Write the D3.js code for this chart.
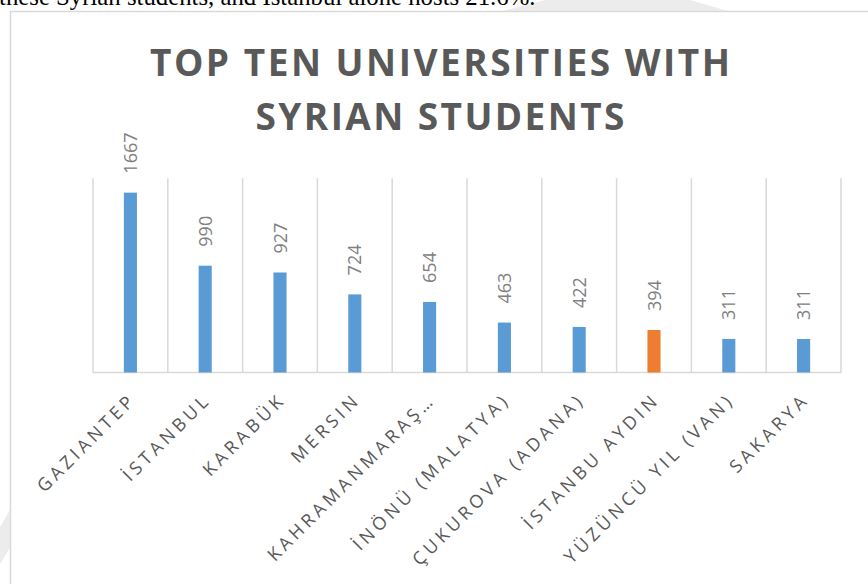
<!DOCTYPE html>
<html><head><meta charset="utf-8">
<script src="https://cdn.jsdelivr.net/npm/d3@7"></script>
<style>html,body{margin:0;padding:0;background:#fff;overflow:hidden}svg{display:block}</style>
</head><body>
<svg id="c" width="868" height="584"></svg>
<script>
const categories = ["GAZIANTEP","İSTANBUL","KARABÜK","MERSIN","KAHRAMANMARAŞ…","İNÖNÜ (MALATYA)","ÇUKUROVA (ADANA)","İSTANBU AYDIN","YÜZÜNCÜ YIL (VAN)","SAKARYA"];
const students = [1667, 990, 927, 724, 654, 463, 422, 394, 311, 311];
const highlight = ["İSTANBU AYDIN"];
const titleLines = ["TOP TEN UNIVERSITIES WITH", "SYRIAN STUDENTS"];
const yDomain = [0, 1800];
const pageText = "these Syrian students, and İstanbul alone hosts 21.6%.";

const svg = d3.select("#c");
// watermark shapes outside the frame
svg.append("polygon").attr("points","503,11 728,11 690,0 545,0").attr("fill","#ececec");
svg.append("polygon").attr("points","0,527 10,510 10,548 0,564").attr("fill","#ececec");

// text from the page above the chart (cut by the top edge, as in the source)
const pt = svg.append("text").attr("x",-1).attr("y",5)
  .attr("font-family","'Liberation Serif','Times New Roman',serif").attr("font-size",22)
  .attr("fill","#000").text(pageText);
const ptw = pt.node().getComputedTextLength();
pt.attr("font-size", 22*537/ptw);

// chart frame
svg.append("rect").attr("x",10.5).attr("y",11.5).attr("width",900).attr("height",640)
  .attr("fill","#fff").attr("stroke","#d9d9d9").attr("stroke-width",1.5);

// title
const titleTargets = [580, 369];
const titleY = [76, 130];
titleLines.forEach((t,i)=>{
  const el = svg.append("text").attr("x",440).attr("y",titleY[i]).attr("text-anchor","middle")
    .attr("font-family","'Open Sans',sans-serif").attr("font-weight","bold").attr("font-size",37)
    .attr("fill","#595959").text(t);
  const w = el.node().getComputedTextLength();
  const ls = (titleTargets[i]-w)/(t.length-1);
  el.attr("letter-spacing", ls).attr("x", 440 + ls/2);
});

const x = d3.scaleBand().domain(categories).range([93, 841]).padding(0);
const y = d3.scaleLinear().domain(yDomain).range([372.5, 178.3]);

// vertical gridlines at band boundaries
const bounds = categories.map(c=>x(c)).concat([x.range()[1]]);
svg.append("g").selectAll("line").data(bounds).join("line")
  .attr("x1",d=>d).attr("x2",d=>d).attr("y1",y(yDomain[1])).attr("y2",y(0))
  .attr("stroke","#d9d9d9").attr("stroke-width",1.5);
// axis line
svg.append("line").attr("x1",x.range()[0]).attr("x2",x.range()[1]).attr("y1",y(0)).attr("y2",y(0))
  .attr("stroke","#d9d9d9").attr("stroke-width",1.5);

const bw = x.bandwidth()*0.175;
svg.append("g").selectAll("rect").data(categories).join("rect")
  .attr("x",d=>x(d)+x.bandwidth()/2-bw/2).attr("width",bw)
  .attr("y",(d,i)=>y(students[i])).attr("height",(d,i)=>y(0)-y(students[i]))
  .attr("fill",d=>highlight.includes(d)?"#ed7d31":"#5b9bd5");

// value labels
svg.append("g").selectAll("text").data(categories).join("text")
  .attr("transform",(d,i)=>`translate(${x(d)+x.bandwidth()/2+6.5},${y(students[i])-19}) rotate(-90)`)
  .attr("font-family","'Open Sans',sans-serif").attr("font-size",18).attr("fill","#808080")
  .text((d,i)=>students[i]);

// category labels
const cl = svg.append("g").selectAll("text").data(categories).join("text")
  .attr("font-family","'Open Sans',sans-serif").attr("font-size",18).attr("fill","#595959")
  .attr("text-anchor","end")
  .text(d=>d);
const w0 = cl.nodes()[0].getComputedTextLength();
const ls = Math.max(0,(127 - w0)/(categories[0].length-1));
cl.attr("letter-spacing", ls)
  .attr("transform",d=>`translate(${x(d)+x.bandwidth()/2+4+ls*0.707},${y(0)+31-ls*0.707}) rotate(-45)`);
</script>
</body></html>
